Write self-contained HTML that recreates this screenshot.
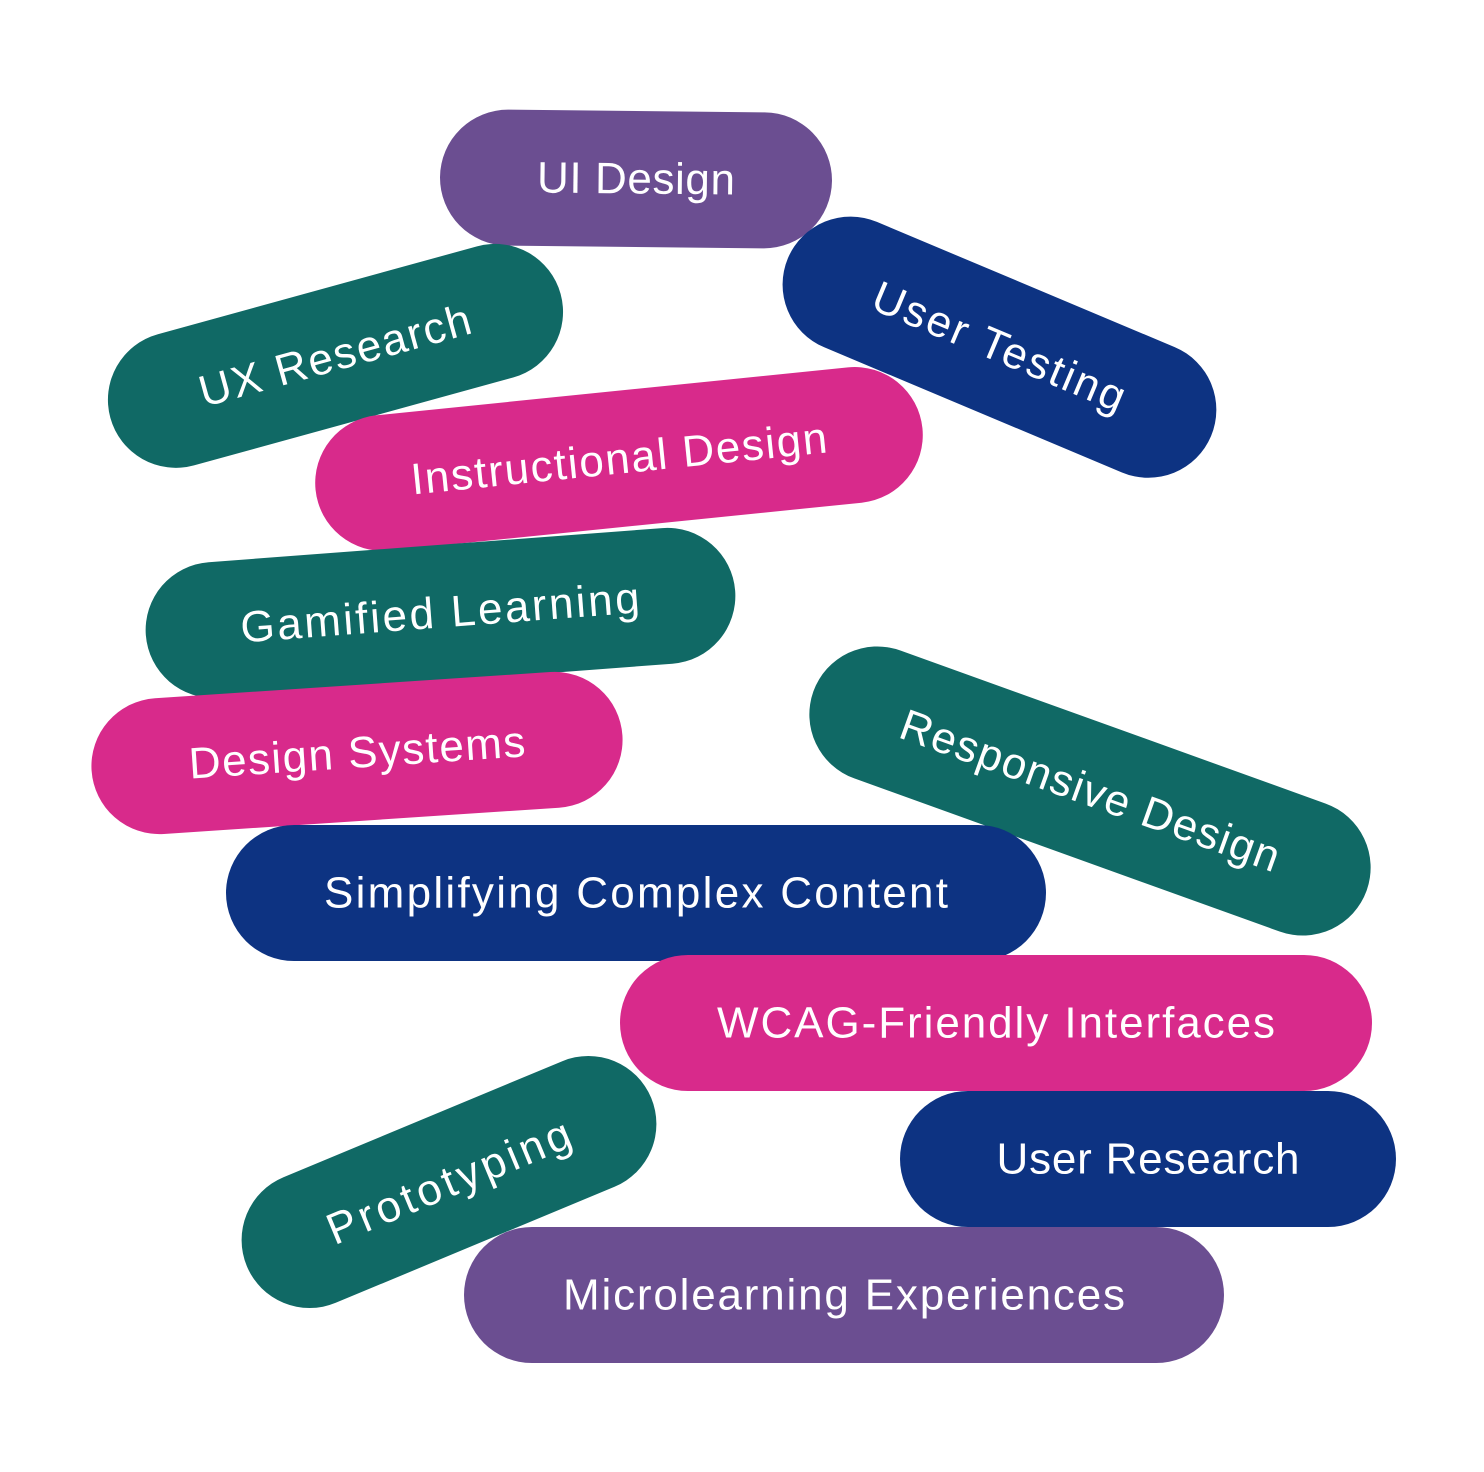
<!DOCTYPE html>
<html><head><meta charset="utf-8"><style>
html,body{margin:0;padding:0;background:#fff;}
svg{display:block}
text{font-family:"Liberation Sans",sans-serif;font-size:44px;fill:#fff;text-anchor:middle;dominant-baseline:central}
</style></head><body>
<svg width="1484" height="1472" viewBox="0 0 1484 1472" xmlns="http://www.w3.org/2000/svg">
<g transform="translate(636,179) rotate(0.6)"><rect x="-196" y="-68" width="392" height="136" rx="68" fill="#6B4E91"/><text x="0" y="0" textLength="198">UI Design</text></g>
<g transform="translate(999,347) rotate(22.8)"><rect x="-229" y="-68" width="459" height="136" rx="68" fill="#0D3382"/><text x="0" y="0" textLength="270">User Testing</text></g>
<g transform="translate(335,356) rotate(-15.4)"><rect x="-233" y="-68" width="467" height="136" rx="68" fill="#106965"/><text x="0" y="0" textLength="280">UX Research</text></g>
<g transform="translate(619,459) rotate(-5.8)"><rect x="-305" y="-68" width="610" height="136" rx="68" fill="#D82A8B"/><text x="0" y="0" textLength="418">Instructional Design</text></g>
<g transform="translate(440,613) rotate(-4.3)"><rect x="-295" y="-68" width="591" height="136" rx="68" fill="#106965"/><text x="0" y="0" textLength="400">Gamified Learning</text></g>
<g transform="translate(357,753) rotate(-3.8)"><rect x="-266" y="-68" width="532" height="136" rx="68" fill="#D82A8B"/><text x="0" y="0" textLength="337">Design Systems</text></g>
<g transform="translate(1090,791) rotate(19.8)"><rect x="-294" y="-68" width="588" height="136" rx="68" fill="#106965"/><text x="0" y="0" textLength="400">Responsive Design</text></g>
<g transform="translate(636,893)"><rect x="-410" y="-68" width="820" height="136" rx="68" fill="#0D3382"/><text x="0" y="0" textLength="624">Simplifying Complex Content</text></g>
<g transform="translate(996,1023)"><rect x="-376" y="-68" width="752" height="136" rx="68" fill="#D82A8B"/><text x="0" y="0" textLength="558">WCAG-Friendly Interfaces</text></g>
<g transform="translate(1148,1159)"><rect x="-248" y="-68" width="496" height="136" rx="68" fill="#0D3382"/><text x="0" y="0" textLength="303">User Research</text></g>
<g transform="translate(449,1182) rotate(-22.6)"><rect x="-219" y="-68" width="438" height="136" rx="68" fill="#106965"/><text x="0" y="0" textLength="260">Prototyping</text></g>
<g transform="translate(844,1295)"><rect x="-380" y="-68" width="760" height="136" rx="68" fill="#6B4E91"/><text x="0" y="0" textLength="562">Microlearning Experiences</text></g>
</svg>
</body></html>
